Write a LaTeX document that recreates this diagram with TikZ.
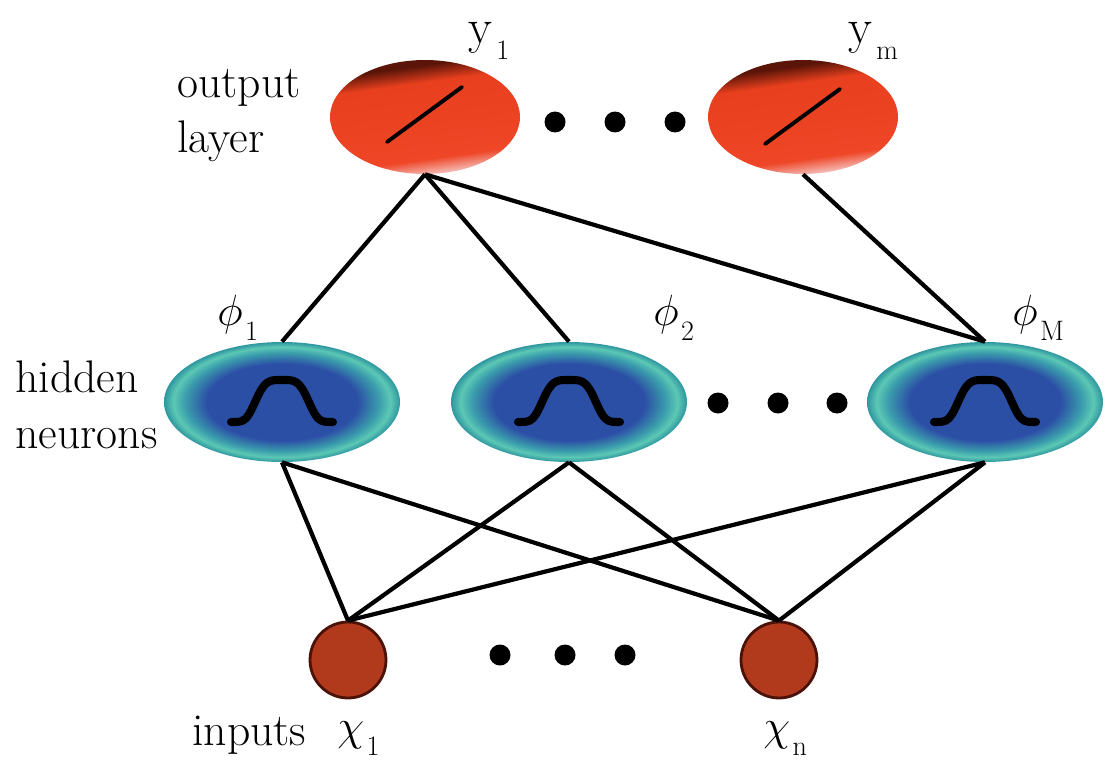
\documentclass[tikz,border=0pt]{standalone}
\usetikzlibrary{shapes.geometric}
\definecolor{opink}{HTML}{F6D8DA}
\definecolor{ored}{HTML}{EE4626}
\definecolor{ored2}{HTML}{E8401E}
\definecolor{odark}{HTML}{5A1408}
\definecolor{hb}{HTML}{2C4FA6}
\definecolor{hm}{HTML}{3A9CAC}
\definecolor{hl}{HTML}{5CC8B4}
\definecolor{he}{HTML}{2E96A0}
\definecolor{inred}{HTML}{B23A1C}
\definecolor{indark}{HTML}{4A1208}
\pgfdeclareverticalshading{outshade}{100bp}{color(0bp)=(opink); color(25bp)=(opink); color(33bp)=(ored); color(64bp)=(ored2); color(71bp)=(odark); color(100bp)=(odark)}
\pgfdeclareradialshading{hidshade}{\pgfpoint{0bp}{0bp}}{color(0bp)=(hb); color(16bp)=(hb); color(20.5bp)=(hm); color(23bp)=(hl); color(25bp)=(he); color(50bp)=(he)}
\begin{document}
\begin{tikzpicture}[x=0.02cm,y=-0.02cm,
  lbl/.style={anchor=base west, inner sep=0, font=\fontsize{26}{30}\selectfont},
  sub/.style={anchor=base west, inner sep=0, font=\fontsize{16}{18}\selectfont},
  outn/.style={ellipse, minimum width=3.8cm, minimum height=2.28cm, inner sep=0, shading=outshade, shading angle=8},
  hidn/.style={ellipse, minimum width=4.72cm, minimum height=2.4cm, inner sep=0, shading=hidshade},
  inn/.style={circle, minimum size=1.52cm, inner sep=0, fill=inred, draw=indark, line width=1.6pt},
  dotn/.style={circle, fill=black, minimum size=0.42cm, inner sep=0},
  conn/.style={line width=2.4pt, black},
  slash/.style={line width=2.2pt, line cap=round},
  bump/.style={line width=4.6pt, line cap=round, line join=round}]
\fill[white] (0,0) rectangle (1108,767);
\useasboundingbox (0,0) rectangle (1108,767);

% output layer
\node[outn] (o1) at (425,117) {};
\node[outn] (om) at (803,117) {};
\draw[slash, shift={(o1.center)}] (-38,25) -- (37,-30);
\draw[slash, shift={(om.center)}] (-38,27) -- (37,-28);
\node[dotn] (d1) at (555,122) {};
\node[dotn] (d2) at (615,122) {};
\node[dotn] (d3) at (675,122) {};

% hidden layer
\node[hidn] (h1) at (282,402) {};
\node[hidn] (h2) at (569,402) {};
\node[hidn] (hM) at (985,402) {};
\foreach \h in {h1,h2,hM}{
  \draw[bump, shift={(\h.center)}] plot[domain=-51:51, samples=80] ({\x}, {20-42*exp(-((\x/29)*(\x/29))^2)});
}
\node[dotn] (d4) at (718,403) {};
\node[dotn] (d5) at (778,403) {};
\node[dotn] (d6) at (837,403) {};

% inputs
\node[inn] (i1) at (348,660) {};
\node[inn] (in) at (779,660) {};
\node[dotn] (d7) at (500,655) {};
\node[dotn] (d8) at (565,655) {};
\node[dotn] (d9) at (625,655) {};

% connections
\draw[conn] (o1.south) -- (h1.north);
\draw[conn] (o1.south) -- (h2.north);
\draw[conn] (o1.south) -- (hM.north);
\draw[conn] (om.south) -- (hM.north);
\draw[conn] (i1.north) -- (h1.south);
\draw[conn] (i1.north) -- (h2.south);
\draw[conn] (i1.north) -- (hM.south);
\draw[conn] (in.north) -- (h1.south);
\draw[conn] (in.north) -- (h2.south);
\draw[conn] (in.north) -- (hM.south);

% labels
\node[lbl] (tout) at (177,97) {output};
\node[lbl] (tlay) at (177,153) {layer};
\node[lbl] (thid) at (15,392) {hidden};
\node[lbl] (tneu) at (15,448) {neurons};
\node[lbl] (tinp) at (192,745) {inputs};
\node[lbl, font=\fontsize{28}{30}\selectfont] (ly1) at (468,44) {y};
\node[sub] (ly1s) at ([xshift=2pt,yshift=-9pt]ly1.base east) {1};
\node[lbl, font=\fontsize{28}{30}\selectfont] (lym) at (848,44) {y};
\node[sub] (lyms) at ([xshift=2pt,yshift=-9pt]lym.base east) {m};
\node[lbl] (lp1) at (217,325) {$\phi$};
\node[sub] (lp1s) at ([xshift=1pt,yshift=-9pt]lp1.base east) {1};
\node[lbl] (lp2) at (653,325) {$\phi$};
\node[sub] (lp2s) at ([xshift=1pt,yshift=-9pt]lp2.base east) {2};
\node[lbl] (lpM) at (1012,325) {$\phi$};
\node[sub] (lpMs) at ([xshift=1pt,yshift=-9pt]lpM.base east) {M};
\node[lbl, font=\fontsize{34}{36}\selectfont] (lx1) at (337,740) {$\chi$};
\node[sub] (lx1s) at ([xshift=1pt,yshift=-9pt]lx1.base east) {1};
\node[lbl, font=\fontsize{34}{36}\selectfont] (lxn) at (763,740) {$\chi$};
\node[sub] (lxns) at ([xshift=1pt,yshift=-9pt]lxn.base east) {n};
\end{tikzpicture}
\end{document}
